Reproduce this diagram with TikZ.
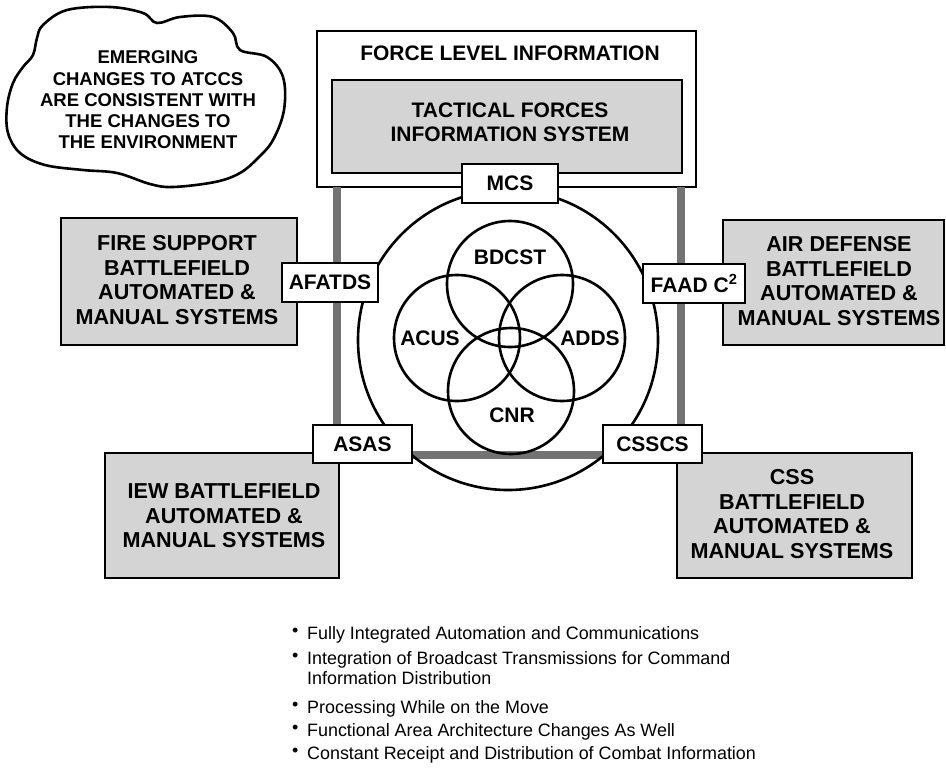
\documentclass[tikz,border=0pt]{standalone}
\usepackage{fontspec}
\setmainfont{Liberation Sans}
\begin{document}
\begin{tikzpicture}[x=1pt,y=-1pt,
  bx/.style={draw=black, line width=2.6pt, fill=white, inner sep=0pt},
  graybox/.style={bx, fill=black!17},
  lbl/.style={font=\bfseries\fontsize{21}{24}\selectfont, align=center, inner sep=0pt},
  glbl/.style={lbl, font=\bfseries\fontsize{21.6}{24.4}\selectfont},
  tagbox/.style={bx, font=\bfseries\fontsize{21}{24}\selectfont},
  ring/.style={draw=black, line width=2.6pt, circle, inner sep=0pt},
  link/.style={draw=black!55, line width=8pt},
  bul/.style={font=\fontsize{17.9}{20}\selectfont, anchor=base west, inner sep=0pt}]
\useasboundingbox (0,0) rectangle (946,776);

% cloud
\draw[line width=2.6pt] plot[smooth cycle, tension=0.6] coordinates {
 (43,25) (67,10) (110,7) (143,13) (157,23) (180,17) (213,17) (233,33)
 (240,50) (267,57) (283,77) (284,110) (273,140) (258,158) (240,173)
 (215,182) (173,187) (150,184) (117,173) (83,170) (45,165) (20,153)
 (8,133) (7,107) (13,83) (23,67) (33,55) (37,38)};
\node[lbl, font=\bfseries\fontsize{18.5}{21.3}\selectfont] (cloud) at (148,100)
 {EMERGING\\CHANGES TO ATCCS\\ARE CONSISTENT WITH\\THE CHANGES TO\\THE ENVIRONMENT};

% top box
\node[bx, minimum width=379, minimum height=156] (flb) at (506.5,109) {};
\node[lbl] (fli) at (510,53) {FORCE LEVEL INFORMATION};
\node[graybox, minimum width=350, minimum height=93] (tfis) at (507,126.5) {};
\node[lbl] (tfisT) at (510,122) {TACTICAL FORCES\\INFORMATION SYSTEM};

% gray boxes
\node[graybox, minimum width=236, minimum height=127] (fs) at (179,281.5) {};
\node[glbl] (fsT) at (177,280) {FIRE SUPPORT\\BATTLEFIELD\\AUTOMATED \&\\MANUAL SYSTEMS};
\node[graybox, minimum width=221, minimum height=125] (ad) at (833.5,282.5) {};
\node[glbl] (adT) at (839,281) {AIR DEFENSE\\BATTLEFIELD\\AUTOMATED \&\\MANUAL SYSTEMS};
\node[graybox, minimum width=234, minimum height=125] (iew) at (222,515.5) {};
\node[glbl] (iewT) at (224,516) {IEW BATTLEFIELD\\AUTOMATED \&\\MANUAL SYSTEMS};
\node[graybox, minimum width=235, minimum height=125] (css) at (794.5,515.5) {};
\node[glbl] (cssT) at (792,514) {CSS\\BATTLEFIELD\\AUTOMATED \&\\MANUAL SYSTEMS};

% tag box positions (drawn later)
\coordinate (mcsP) at (510,183.5);
\coordinate (afP) at (330,282.5);
\coordinate (faP) at (694,283.5);
\coordinate (asP) at (362.5,444);
\coordinate (csP) at (652.5,444);

% gray links
\coordinate (lt) at (337,187);
\coordinate (rt) at (681,187);
\draw[link] (lt) -- (lt |- asP);
\draw[link] (rt) -- (rt |- csP);
\draw[link] ([yshift=-11pt]asP) -- ([yshift=-11pt]csP);

% circles
\node[ring, minimum size=300] (big) at (508,340) {};
\node[ring, minimum size=126] (bdcst) at (510,284) {};
\node[ring, minimum size=126] (acus) at (457,338) {};
\node[ring, minimum size=126] (adds) at (562,338) {};
\node[ring, minimum size=126] (cnr) at (511,391) {};
\node[lbl] (bdcstT) at (510,257) {BDCST};
\node[lbl] (acusT) at (430,338) {ACUS};
\node[lbl] (addsT) at (590,338) {ADDS};
\node[lbl] (cnrT) at (512,415) {CNR};

% tag boxes
\node[tagbox, minimum width=96, minimum height=39] (mcs) at (mcsP) {MCS};
\node[tagbox, minimum width=96, minimum height=39] (afatds) at (afP) {AFATDS};
\node[tagbox, minimum width=102, minimum height=39] (faad) at (faP) {FAAD C\textsuperscript{2}};
\node[tagbox, minimum width=99, minimum height=38] (asas) at (asP) {ASAS};
\node[tagbox, minimum width=99, minimum height=38] (csscs) at (csP) {CSSCS};

% bullets
\foreach \yy/\nm in {636/b1,661/b2,710/b3,733/b4,756/b5}
  \node[bul] (\nm) at (292,\yy) {•};
\node[bul] (t1) at (307,639) {Fully Integrated Automation and Communications};
\node[bul] (t2) at (307,664) {Integration of Broadcast Transmissions for Command};
\node[bul] (t2b) at (307,684) {Information Distribution};
\node[bul] (t3) at (307,713) {Processing While on the Move};
\node[bul] (t4) at (307,736) {Functional Area Architecture Changes As Well};
\node[bul] (t5) at (307,759) {Constant Receipt and Distribution of Combat Information};
\end{tikzpicture}
\end{document}
